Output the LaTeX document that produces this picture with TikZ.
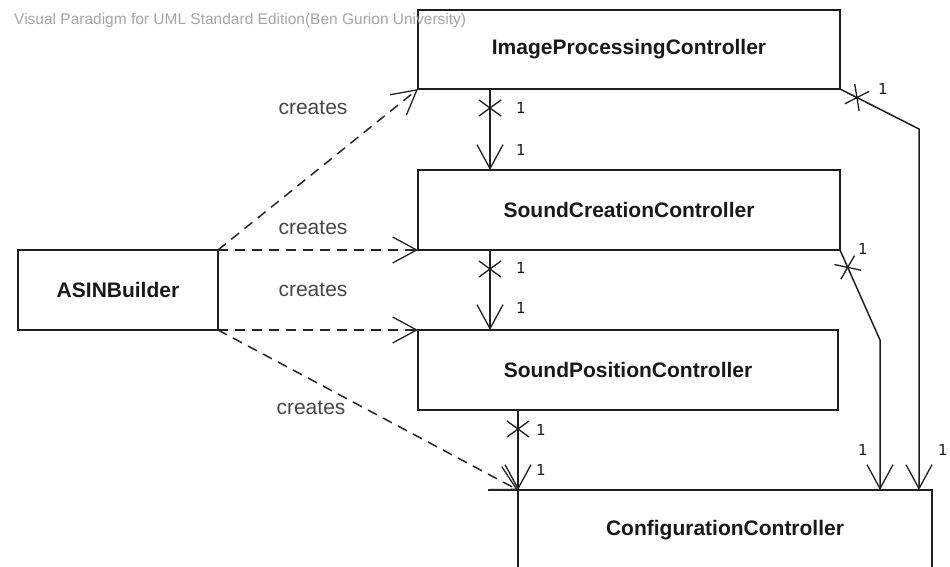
\documentclass[tikz,border=0pt]{standalone}
\usepackage{fontspec}
\setmainfont{Liberation Sans}
\newfontfamily\multfont{DejaVu Sans}
\usetikzlibrary{arrows.meta,decorations.markings,calc}
\begin{document}
\begin{tikzpicture}[x=1pt,y=-1pt,
  cls/.style={draw=black!88, line width=1.6pt, fill=white, font=\fontsize{21}{24}\selectfont\bfseries, text=black!90, inner sep=0pt, outer sep=0pt},
  vtip/.style={-{Straight Barb[length=24pt,width=26pt,line width=1.3pt]}},
  assoc/.style={draw=black!88, line width=1.5pt, vtip, postaction={decorate},
    decoration={markings, mark=at position 19pt with {\draw[-, solid, line width=1.3pt] (-8pt,-11pt)--(8pt,11pt) (-8pt,11pt)--(8pt,-11pt);}}},
  dep/.style={draw=black!85, line width=1.5pt, dash pattern=on 10pt off 7pt, vtip},
  lbl/.style={font=\fontsize{21}{24}\selectfont, text=black!72, inner sep=0pt},
  mult/.style={font=\multfont\fontsize{15}{17}\selectfont, text=black!90, inner sep=0pt}]
\useasboundingbox (0,0) rectangle (950,567);
\fill[white] (0,0) rectangle (950,567);
\clip (0,0) rectangle (950,567);

% classes
\node[cls, minimum width=422pt, minimum height=79pt] (ip) at (629,49.5) {ImageProcessingController};
\node[cls, minimum width=422pt, minimum height=80pt] (sc) at (629,210) {SoundCreationController};
\node[cls, minimum width=420pt, minimum height=80pt] (sp) at (628,370) {SoundPositionController};
\node[cls, minimum width=200pt, minimum height=80pt] (asin) at (118,290) {ASINBuilder};
\node[cls, minimum width=414pt, minimum height=80pt] (cc) at (725,530) {ConfigurationController};

% bend points
\coordinate (b1) at (919,129);
\coordinate (b2) at (880,340);

% associations
\draw[assoc] ($(ip.south west)+(72,0)$) -- ($(sc.north west)+(72,0)$);
\draw[assoc] ($(sc.south west)+(72,0)$) -- ($(sp.north west)+(72,0)$);
\draw[assoc] ($(sp.south west)+(100,0)$) -- (cc.north west);
\draw[assoc] (ip.south east) -- (b1) -- (b1 |- cc.north);
\draw[assoc] (sc.south east) -- (b2) -- (b2 |- cc.north);
\draw[draw=black!88, line width=1.5pt] (cc.north west) -- ++(-30,0);

% dependencies
\draw[dep] (asin.north east) -- (ip.south west);
\draw[dep] (asin.north east) -- (sc.south west);
\draw[dep] (asin.south east) -- (sp.north west);
\draw[dep] (asin.south east) -- (cc.north west);

% labels
\node[lbl] (c1) at (313,108) {creates};
\node[lbl] (c2) at (313,228) {creates};
\node[lbl] (c3) at (313,290) {creates};
\node[lbl] (c4) at (311,408) {creates};

\node[mult] (m1) at (521,108) {1};
\node[mult] (m2) at (521,150) {1};
\node[mult] (m3) at (521,268) {1};
\node[mult] (m4) at (521,308) {1};
\node[mult] (m5) at (541,430) {1};
\node[mult] (m6) at (541,470) {1};
\node[mult] (m7) at (883,89) {1};
\node[mult] (m8) at (863,249) {1};
\node[mult] (m9) at (863,450) {1};
\node[mult] (m10) at (943,450) {1};

% watermark
\node[anchor=base west, inner sep=0pt, font=\fontsize{15.5}{18}\selectfont, text=black!35] (wm) at (14,25) {Visual Paradigm for UML Standard Edition(Ben Gurion University)};
\end{tikzpicture}
\end{document}
